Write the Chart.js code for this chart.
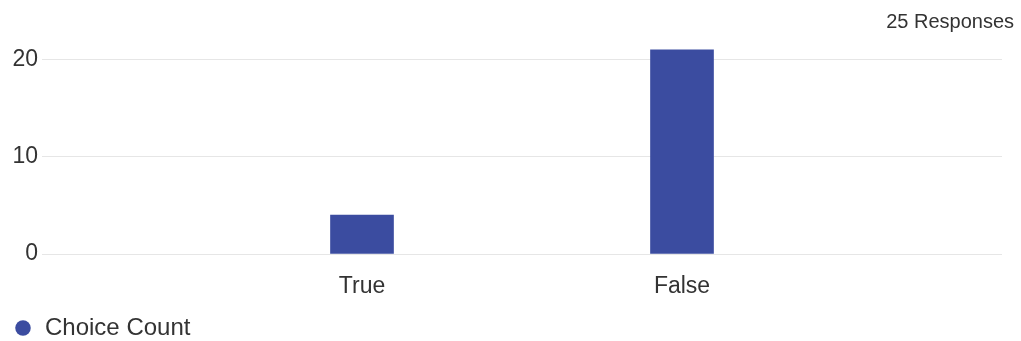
<!DOCTYPE html>
<html>
<head>
<meta charset="utf-8">
<script src="https://cdn.jsdelivr.net/npm/chart.js@4"></script>
<style>
  html, body { margin: 0; padding: 0; background: #ffffff; }
  #wrap { width: 1021px; height: 341px; position: relative; }
</style>
</head>
<body>
<div id="wrap"><canvas id="chart"></canvas></div>
<script>
// Answer choices (blank slots keep the two bars spaced toward the centre)
const categories = ['', 'True', 'False', ''];
const choiceCount = [null, 4, 21, null];
const yTicks = [0, 10, 20];
const seriesName = 'Choice Count';
const responsesLabel = '25 Responses';

const FONT = '"Liberation Sans", Arial, sans-serif';
const BAR_COLOR = '#3b4ca0';
const TEXT_COLOR = '#333333';

// Response total shown in the top-right corner
const responsesPlugin = {
  id: 'responses',
  afterDraw(chart) {
    const ctx = chart.ctx;
    ctx.save();
    ctx.font = '20px ' + FONT;
    ctx.fillStyle = TEXT_COLOR;
    ctx.textAlign = 'right';
    ctx.textBaseline = 'alphabetic';
    ctx.fillText(responsesLabel, chart.width - 7, 28);
    ctx.restore();
  }
};

new Chart(document.getElementById('chart'), {
  type: 'bar',
  data: {
    labels: categories,
    datasets: [{
      label: seriesName,
      data: choiceCount,
      backgroundColor: BAR_COLOR,
      borderWidth: 0,
      barThickness: 63
    }]
  },
  options: {
    responsive: true,
    maintainAspectRatio: false,
    animation: false,
    devicePixelRatio: 1,
    layout: { padding: { top: 40, right: 18, left: 13, bottom: 0 } },
    plugins: {
      legend: {
        position: 'bottom',
        align: 'start',
        maxHeight: 25,
        labels: {
          usePointStyle: true,
          pointStyle: 'circle',
          boxWidth: 20,
          boxHeight: 11,
          color: TEXT_COLOR,
          font: { family: FONT, size: 24 },
          padding: 0
        }
      },
      tooltip: { enabled: false },
      title: { display: false }
    },
    scales: {
      x: {
        offset: false,
        grid: { display: false, drawTicks: false },
        border: { display: false },
        ticks: {
          color: TEXT_COLOR,
          font: { family: FONT, size: 23 },
          padding: 19,
          autoSkip: false,
          maxRotation: 0
        },
        afterFit(scale) { scale.height = 62; }
      },
      y: {
        min: 0,
        max: 22,
        afterBuildTicks(scale) { scale.ticks = yTicks.map(v => ({ value: v })); },
        grid: { color: '#e6e6e6', lineWidth: 1, drawTicks: false },
        border: { display: false },
        ticks: {
          color: TEXT_COLOR,
          font: { family: FONT, size: 23 },
          padding: 4
        },
        afterFit(scale) { scale.width = 29; }
      }
    }
  },
  plugins: [responsesPlugin]
});
</script>
</body>
</html>
